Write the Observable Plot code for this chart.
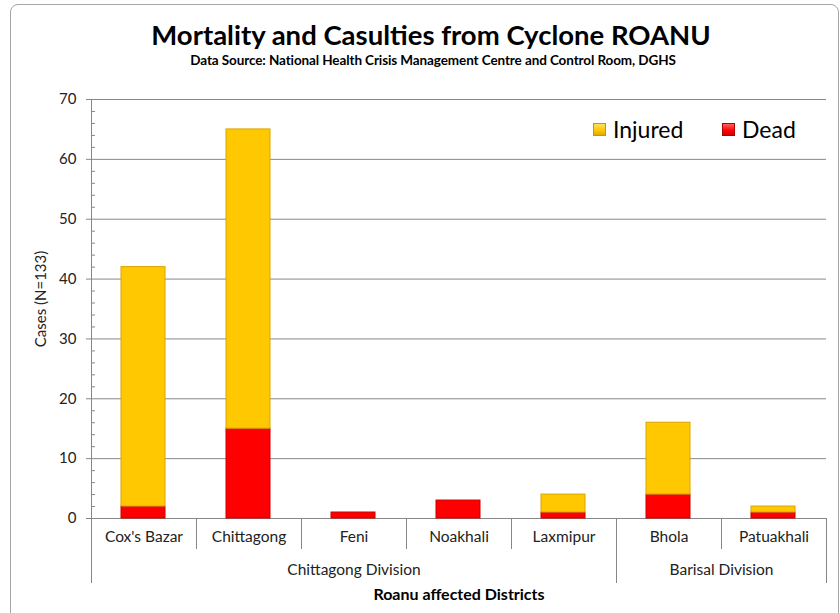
<!DOCTYPE html>
<html>
<head>
<meta charset="utf-8">
<script src="https://cdn.jsdelivr.net/npm/d3@7"></script>
<script src="https://cdn.jsdelivr.net/npm/@observablehq/plot@0.6"></script>
<style>
  html, body { margin: 0; padding: 0; background: #fff; }
  #wrap { position: relative; width: 840px; height: 613px; overflow: hidden; font-family: Lato, "Open Sans", sans-serif; }
  #frame { position: absolute; left: 10px; top: 4px; width: 829px; height: 640px; border: 1.5px solid #a6a6a6; border-radius: 8px; box-sizing: border-box; }
  #title { position: absolute; left: 0; width: 862px; top: 18px; text-align: center; font-weight: bold; font-size: 27.5px; color: #000; }
  #subtitle { position: absolute; left: 0; width: 866px; top: 52px; text-align: center; font-weight: bold; font-size: 13.5px; color: #000; letter-spacing: -0.1px; }
  #chart { position: absolute; left: 0; top: 0; }
  .lg { position: absolute; top: 115px; font-size: 23px; color: #000; display: flex; align-items: center; }
  .sw { width: 13px; height: 13px; margin-right: 7px; box-sizing: border-box; }
</style>
</head>
<body>
<div id="wrap">
  <div id="frame"></div>
  <div id="chart"></div>
  <div id="title">Mortality and Casulties from Cyclone ROANU</div>
  <div id="subtitle">Data Source: National Health Crisis Management Centre and Control Room, DGHS</div>
  <div class="lg" style="left:593px"><div class="sw" style="background:linear-gradient(#ffe060,#ffc600 60%,#e0a800);border:1px solid #c89600"></div>Injured</div>
  <div class="lg" style="left:722px"><div class="sw" style="background:linear-gradient(#ff6060,#ff0000 60%,#d00000);border:1px solid #b00000"></div>Dead</div>
</div>
<script>
// ---- data ----
const districts = ["Cox's Bazar", "Chittagong", "Feni", "Noakhali", "Laxmipur", "Bhola", "Patuakhali"];
const dead      = [2, 15, 1, 3, 1, 4, 1];
const injured   = [40, 50, 0, 0, 3, 12, 1];
const divisions = ["Chittagong Division", "Barisal Division"];
const divisionSizes = [5, 2];
const yTicks = [0, 10, 20, 30, 40, 50, 60, 70];
const yMinor = [2, 4, 6, 8, 12, 14, 16, 18, 22, 24, 26, 28, 32, 34, 36, 38, 42, 44, 46, 48, 52, 54, 56, 58, 62, 64, 66, 68];
const axisTitleX = "Roanu affected Districts";
const axisTitleY = "Cases (N=133)";

// ---- derived tables ----
const rows = [];
districts.forEach((d, i) => {
  rows.push({district: d, i, type: "Dead", y1: 0, y2: dead[i]});
  if (injured[i] > 0) rows.push({district: d, i, type: "Injured", y1: dead[i], y2: dead[i] + injured[i]});
});
const divRows = [];
let acc = 0;
divisions.forEach((name, k) => { divRows.push({name, x1: acc, x2: acc + divisionSizes[k]}); acc += divisionSizes[k]; });
const districtBounds = districts.map((d, i) => i).filter(i => i > 0 && !divRows.some(r => r.x1 === i));
const divisionBounds = [0, ...divRows.map(r => r.x2)];

const grid = "#878787";
const fills = {Dead: "#ff0000", Injured: "#ffc800"};
const strokes = {Dead: "#c80000", Injured: "#d9a600"};

const chart = Plot.plot({
  width: 840, height: 613,
  marginLeft: 91, marginRight: 14, marginTop: 99, marginBottom: 95,
  x: {domain: [0, districts.length], axis: null},
  y: {domain: [0, 70], axis: null},
  style: {fontFamily: "Lato, 'Open Sans', sans-serif", background: "transparent", overflow: "visible"},
  marks: [
    Plot.ruleY(yTicks, {stroke: grid, strokeWidth: 1}),
    Plot.ruleX([0], {stroke: grid, strokeWidth: 1}),
    Plot.axisY({ticks: yTicks, tickSize: 5, tickPadding: 10, fontSize: 15, stroke: grid, fill: "#222", label: null}),
    Plot.axisY({ticks: yMinor, tickSize: -4, tickFormat: () => "", stroke: grid, label: null}),
    Plot.axisX({ticks: districtBounds, tickSize: 31, tickFormat: () => "", stroke: grid, label: null}),
    Plot.axisX({ticks: divisionBounds, tickSize: 65, tickFormat: () => "", stroke: grid, label: null}),
    Plot.rect(rows, {
      x1: d => d.i, x2: d => d.i + 1, y1: "y1", y2: "y2",
      insetLeft: 30, insetRight: 31,
      fill: d => fills[d.type], stroke: d => strokes[d.type], strokeWidth: 1
    }),
    Plot.text(districts, {x: (d, i) => i + 0.5, text: d => d, frameAnchor: "bottom", dy: 23, fontSize: 15.5, fill: "#222"}),
    Plot.text(divRows, {x: d => (d.x1 + d.x2) / 2, text: "name", frameAnchor: "bottom", dy: 56, fontSize: 15.5, fill: "#222"}),
    Plot.text([axisTitleX], {x: districts.length / 2, text: d => d, frameAnchor: "bottom", dy: 81, fontSize: 16, fontWeight: "bold", fill: "#000"}),
    Plot.text([axisTitleY], {text: d => d, frameAnchor: "left", textAnchor: "middle", dx: -50, dy: -10, rotate: -90, fontSize: 15, fill: "#222"})
  ]
});
document.getElementById("chart").appendChild(chart);
</script>
</body>
</html>
